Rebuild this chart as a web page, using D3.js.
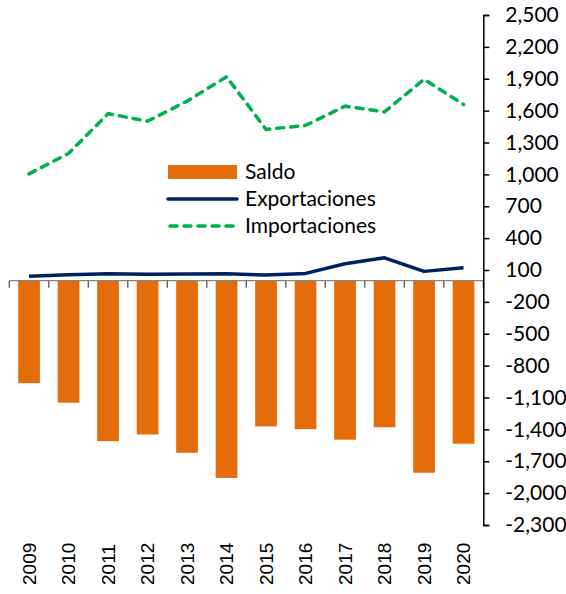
<!DOCTYPE html>
<html>
<head>
<meta charset="utf-8">
<script src="https://cdn.jsdelivr.net/npm/d3@7"></script>
<style>
  html, body { margin: 0; padding: 0; background: #ffffff; }
  svg { display: block; }
</style>
</head>
<body>
<script>
const years = ["2009","2010","2011","2012","2013","2014","2015","2016","2017","2018","2019","2020"];
const saldo = [-965, -1149, -1511, -1448, -1620, -1857, -1372, -1398, -1497, -1380, -1808, -1535];
const exportaciones = [42, 55, 65, 60, 62, 65, 52, 68, 159, 215, 87, 121];
const importaciones = [1005, 1197, 1571, 1501, 1689, 1919, 1423, 1461, 1642, 1589, 1894, 1658];
const yTicks = [2500, 2200, 1900, 1600, 1300, 1000, 700, 400, 100, -200, -500, -800, -1100, -1400, -1700, -2000, -2300];
const legendItems = ["Saldo", "Exportaciones", "Importaciones"];

const W = 566, H = 594;
const colors = { saldo: "#E46C0A", exp: "#002060", imp: "#00B050" };
const labelFont = "Lato, 'Open Sans', sans-serif";

const svg = d3.select("body").append("svg").attr("width", W).attr("height", H);

const x = d3.scaleBand().domain(years).range([9.3, 483.3]).paddingInner(0.45).paddingOuter(0.225);
const y = d3.scaleLinear().domain([-2300, 2500]).range([525, 15]);

// bars
svg.append("g").selectAll("rect").data(years).join("rect")
  .attr("x", d => x(d))
  .attr("width", x.bandwidth())
  .attr("y", y(0))
  .attr("height", (d, i) => y(saldo[i]) - y(0))
  .attr("fill", colors.saldo);

// x axis (category) at zero
const bounds = years.map(d => x(d) - x.step() * x.paddingInner() / 2);
bounds.push(x.range()[1]);
const xg = svg.append("g");
xg.append("line").attr("x1", x.range()[0]).attr("x2", x.range()[1])
  .attr("y1", y(0)).attr("y2", y(0)).attr("stroke", "#868686").attr("stroke-width", 1.3);
xg.selectAll("line.t").data(bounds).join("line").attr("class", "t")
  .attr("x1", d => d).attr("x2", d => d)
  .attr("y1", y(0)).attr("y2", y(0) + 7)
  .attr("stroke", "#595959").attr("stroke-width", 1.3);

// year labels
svg.append("g").selectAll("text").data(years).join("text")
  .attr("transform", d => `translate(${x(d) + x.bandwidth() / 2},585) rotate(-90)`)
  .attr("dy", "0.36em")
  .attr("text-anchor", "start")
  .attr("font-family", "'Liberation Sans', Arial, sans-serif")
  .attr("font-size", 19)
  .attr("fill", "#000")
  .text(d => d);

// lines
const cx = (d) => x(d) + x.bandwidth() / 2;
const lineGen = d3.line().x((v, i) => cx(years[i])).y(v => y(v));
svg.append("path").datum(importaciones).attr("d", lineGen)
  .attr("fill", "none").attr("stroke", colors.imp).attr("stroke-width", 3.5)
  .attr("stroke-dasharray", "7,7").attr("stroke-linecap", "round");
svg.append("path").datum(exportaciones).attr("d", lineGen)
  .attr("fill", "none").attr("stroke", colors.exp).attr("stroke-width", 3.5)
  .attr("stroke-linejoin", "round");

// y axis on right
const fmt = d3.format(",");
const yAxis = d3.axisRight(y).tickValues(yTicks).tickSize(6).tickPadding(16)
  .tickFormat(d => fmt(d).replace("\u2212", "-"));
const yg = svg.append("g").attr("transform", "translate(483.3,0)").call(yAxis);
yg.select(".domain").attr("stroke", "#000").attr("stroke-width", 1.5);
yg.selectAll(".tick line").attr("stroke", "#000").attr("stroke-width", 1.5);
yg.selectAll(".tick text").attr("font-family", labelFont).attr("font-size", 21).attr("fill", "#000");

// legend
const lg = svg.append("g");
const lx0 = 168, lx1 = 237, rowY = [172, 199, 226];
lg.append("rect").attr("x", lx0).attr("y", rowY[0] - 7).attr("width", lx1 - lx0).attr("height", 14).attr("fill", colors.saldo);
lg.append("line").attr("x1", lx0).attr("x2", lx1).attr("y1", rowY[1]).attr("y2", rowY[1])
  .attr("stroke", colors.exp).attr("stroke-width", 3.5).attr("stroke-linecap", "round");
lg.append("line").attr("x1", lx0 + 2).attr("x2", lx1).attr("y1", rowY[2]).attr("y2", rowY[2])
  .attr("stroke", colors.imp).attr("stroke-width", 3.5).attr("stroke-dasharray", "7,7").attr("stroke-linecap", "round");
lg.selectAll("text").data(legendItems).join("text")
  .attr("x", 245).attr("y", (d, i) => rowY[i]).attr("dy", "0.35em")
  .attr("font-family", labelFont).attr("font-size", 21).attr("fill", "#000")
  .text(d => d);
</script>
</body>
</html>
